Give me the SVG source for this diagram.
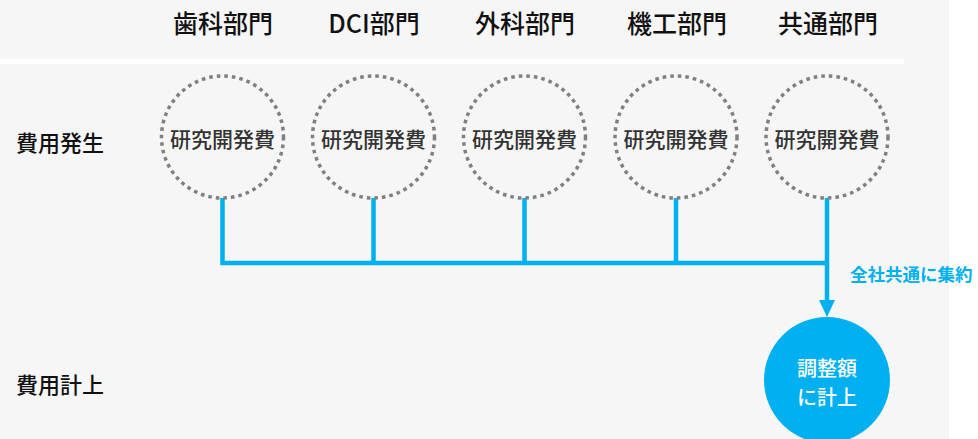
<svg xmlns="http://www.w3.org/2000/svg" width="978" height="439" viewBox="0 0 978 439">
<style>
.hd{font-family:"Noto Sans CJK JP","Noto Sans",sans-serif;font-size:25px;font-weight:500;fill:#111;text-anchor:middle}
.rl{font-family:"Noto Sans CJK JP","Noto Sans",sans-serif;font-size:22px;font-weight:500;fill:#111}
.dc{fill:none;stroke:#808080;stroke-width:3.5;stroke-dasharray:3.6 4}
.dt{font-family:"Noto Sans CJK JP","Noto Sans",sans-serif;font-size:21px;font-weight:500;fill:#333;text-anchor:middle}
.ln{fill:none;stroke:#00b0f0;stroke-width:4.5}
.wt{font-family:"Noto Sans CJK JP","Noto Sans",sans-serif;font-size:20px;font-weight:500;fill:#fff;text-anchor:middle}
</style>
<rect x="0" y="0" width="978" height="439" fill="#ffffff"/>
<rect x="0" y="0" width="949" height="439" fill="#f6f6f6"/>
<rect x="0" y="59" width="904" height="5" fill="#ffffff"/>
<g id="headers">
<text class="hd" x="223" y="33">歯科部門</text>
<text class="hd" x="374" y="33">DCI部門</text>
<text class="hd" x="525" y="33">外科部門</text>
<text class="hd" x="677" y="33">機工部門</text>
<text class="hd" x="828" y="33">共通部門</text>
</g>
<g id="rowlabels">
<text class="rl" x="16" y="151">費用発生</text>
<text class="rl" x="16" y="393">費用計上</text>
</g>
<g id="connectors">
<path class="ln" d="M222.5,198 V263 H827 M373.5,198 V263 M524.5,198 V263 M676,198 V263"/>
<path class="ln" d="M827,198 V300" />
<path d="M819,300 L835,300 L827,317 Z" fill="#00b0f0"/>
<text x="850" y="281" font-family="'Noto Sans CJK JP','Noto Sans',sans-serif" font-size="17.5" font-weight="700" fill="#00b0f0">全社共通に集約</text>
</g>
<g id="n1"><circle class="dc" cx="222.5" cy="137" r="61"/><text class="dt" x="222.5" y="147">研究開発費</text></g>
<g id="n2"><circle class="dc" cx="373.5" cy="137" r="61"/><text class="dt" x="373.5" y="147">研究開発費</text></g>
<g id="n3"><circle class="dc" cx="524.5" cy="137" r="61"/><text class="dt" x="524.5" y="147">研究開発費</text></g>
<g id="n4"><circle class="dc" cx="676" cy="137" r="61"/><text class="dt" x="676" y="147">研究開発費</text></g>
<g id="n5"><circle class="dc" cx="827" cy="137" r="61"/><text class="dt" x="827" y="147">研究開発費</text></g>
<g id="target"><circle cx="827" cy="380" r="63" fill="#00b0f0"/><text class="wt" x="827" y="376">調整額</text><text class="wt" x="827" y="405">に計上</text></g>
</svg>
